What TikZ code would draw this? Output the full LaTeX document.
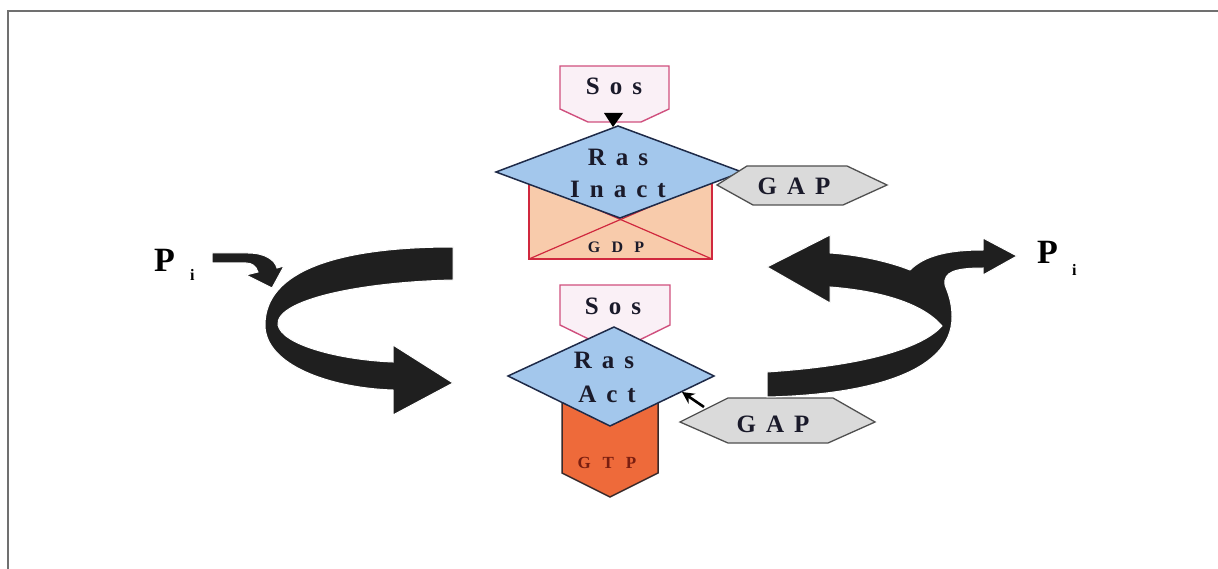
\documentclass[tikz,border=0pt]{standalone}
\usepackage{fontspec}
\setmainfont{Liberation Serif}
\usetikzlibrary{arrows.meta}
\newcommand\ltrsp{\kern0.4em}
\newcommand\wsp{\kern0.7em}
\definecolor{sosfill}{HTML}{FAF0F6}
\definecolor{sosline}{HTML}{D0507E}
\definecolor{rasfill}{HTML}{A3C7EC}
\definecolor{rasline}{HTML}{1E2A48}
\definecolor{gdpfill}{HTML}{F8CBAB}
\definecolor{gdpline}{HTML}{D0283E}
\definecolor{gtpfill}{HTML}{EE6A3A}
\definecolor{gtpline}{HTML}{3A2A2A}
\definecolor{gapfill}{HTML}{DADADA}
\definecolor{gapline}{HTML}{505050}
\definecolor{frame}{HTML}{707070}
\definecolor{textdark}{HTML}{1A1A2A}
\definecolor{gtptext}{HTML}{7A1E10}
\begin{document}
\begin{tikzpicture}[x=1pt,y=-1pt,
  sosbox/.style={fill=sosfill,draw=sosline,line width=1.4pt,line join=miter},
  rasbox/.style={fill=rasfill,draw=rasline,line width=1.5pt,line join=miter},
  gdpbox/.style={fill=gdpfill,draw=gdpline,line width=1.2pt},
  gtpbox/.style={fill=gtpfill,draw=gtpline,line width=1.5pt},
  gapbox/.style={fill=gapfill,draw=gapline,line width=1.3pt},
  bigarrow/.style={fill=black!88,draw=white,line width=1pt},
  lbl/.style={inner sep=0pt,anchor=base,font=\fontsize{25}{30}\selectfont\bfseries,text=textdark},
  smalllbl/.style={inner sep=0pt,anchor=base,font=\fontsize{16}{20}\selectfont\bfseries,text=textdark}]
\useasboundingbox (0,0) rectangle (1218,569);
\fill[white] (0,0) rectangle (1218,569);
% frame
\draw[frame,line width=2pt] (8,569) -- (8,11) -- (1218,11);

% ---- top group ----
\draw[gdpbox] (529,180) rectangle (712,259);
\draw[gdpline,line width=1.2pt] (529,259) -- (712,180);
\draw[gdpline,line width=1.2pt] (529,180) -- (712,259);
\draw[sosbox] (560,66) -- (669,66) -- (669,109) -- (641,122) -- (588,122) -- (560,109) -- cycle;
\draw[rasbox] (496,172) -- (618,126) -- (742,172) -- (620,218) -- cycle;
\fill[black] (604,113) -- (623,113) -- (613,127) -- cycle;
\draw[gapbox] (717,185) -- (747,166) -- (847,166) -- (887,185) -- (843,205) -- (753,205) -- cycle;

\node[lbl] (sostop) at (614,95) {S\ltrsp o\ltrsp s};
\node[lbl] (rastop) at (618,166) {R\ltrsp a\ltrsp s};
\node[lbl] (inact) at (618,198) {I\ltrsp n\ltrsp a\ltrsp c\ltrsp t};
\node[smalllbl] (gdp) at (616,253) {G\wsp D\wsp P};
\node[lbl] (gaptop) at (794,195) {G\ltrsp A\ltrsp P};

% ---- bottom group ----
\draw[sosbox] (560,285) -- (670,285) -- (670,325) -- (615,352) -- (560,325) -- cycle;
\draw[gtpbox] (562,395) -- (658,395) -- (658,473) -- (610,497) -- (562,473) -- cycle;
\draw[rasbox] (508,376) -- (614,327) -- (714,376) -- (610,426) -- cycle;
\draw[gapbox] (680,422) -- (728,398) -- (833,398) -- (875,422) -- (828,443) -- (728,443) -- cycle;

\node[lbl] (sosbot) at (613,315) {S\ltrsp o\ltrsp s};
\node[lbl] (rasbot) at (604,368) {R\ltrsp a\ltrsp s};
\node[lbl] (act) at (607,402) {A\ltrsp c\ltrsp t};
\node[smalllbl,font=\fontsize{17}{20}\selectfont\bfseries,text=gtptext] (gtp) at (607,468) {G\wsp T\wsp P};
\node[lbl] (gapbot) at (773,432) {G\ltrsp A\ltrsp P};

\coordinate (gapbarrow) at (704,407);
\coordinate (rasbedge) at (682,392);
\draw[black,line width=2.6pt,-{Stealth[length=12pt,width=12pt]}] (gapbarrow) -- (rasbedge);

% ---- left cycle arrow ----
\draw[bigarrow] (453,247) .. controls (340,247) and (265,270) .. (265,325)
  .. controls (265,365) and (330,388) .. (393,390)
  -- (393,415) -- (453,383) -- (393,345) -- (393,362)
  .. controls (340,360) and (282,345) .. (278,325)
  .. controls (275,300) and (360,282) .. (453,280) -- cycle;
\draw[bigarrow] (212,253) -- (248,253) .. controls (265,253) and (275,260) .. (277,268)
  -- (284,266) -- (272,288) -- (246,275) -- (258,272)
  .. controls (256,266) and (252,263) .. (246,263) -- (212,263) -- cycle;

% ---- right cycle arrow ----
\draw[bigarrow] (767,397) .. controls (860,395) and (952,375) .. (952,317)
  .. controls (952,302) and (948,293) .. (945,285)
  .. controls (943,272) and (955,268) .. (983,268)
  -- (983,275) -- (1017,256) -- (983,238) -- (983,250)
  .. controls (950,250) and (925,255) .. (910,270)
  .. controls (890,262) and (860,255) .. (830,253)
  -- (830,235) -- (767,267) -- (830,303) -- (830,287)
  .. controls (870,290) and (920,300) .. (942,326)
  .. controls (925,345) and (875,365) .. (767,372) -- cycle;

% ---- Pi labels ----
\node[inner sep=0pt,anchor=base west,font=\fontsize{34}{40}\selectfont\bfseries] (pleft) at (154,272) {P};
\node[inner sep=0pt,anchor=base west,font=\fontsize{16}{20}\selectfont\bfseries] (ileft) at (190,281) {i};
\node[inner sep=0pt,anchor=base west,font=\fontsize{34}{40}\selectfont\bfseries] (pright) at (1037,264) {P};
\node[inner sep=0pt,anchor=base west,font=\fontsize{16}{20}\selectfont\bfseries] (iright) at (1072,276) {i};
\end{tikzpicture}
\end{document}
